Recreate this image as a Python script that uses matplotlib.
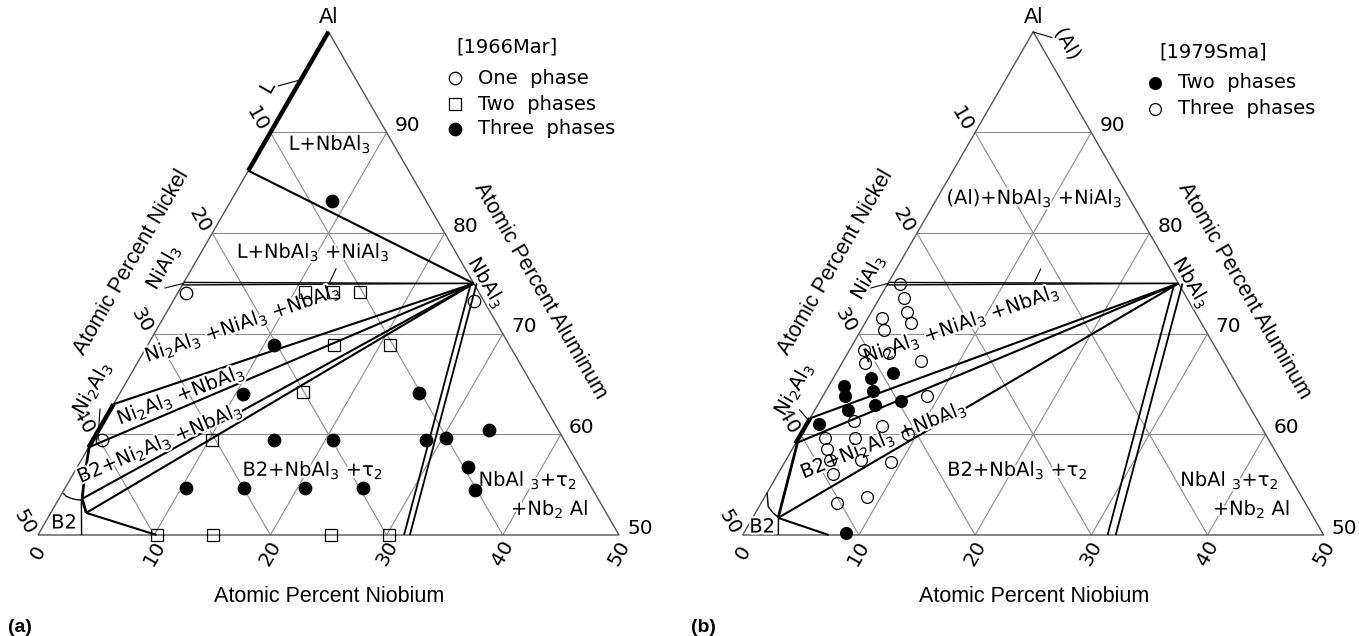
import numpy as np
import matplotlib.pyplot as plt
import matplotlib.patheffects as pe

plt.rcParams['font.family'] = ['DejaVu Sans']
plt.rcParams['mathtext.default'] = 'regular'

W, H = 1359, 636
S = 11.62            # pixels per at.% along a triangle edge
R3 = np.sqrt(3) / 2

# compositions are (at.% Nb, at.% Al), nickel is the balance
# --- (a) 1966Mar ---
a_one_nb = [0.7, 0.8, 25.9]
a_one_al = [74.0, 59.4, 73.3]
a_two_nb = [10.9, 13.3, 15.7, 16.0, 20.8, 15.7, 10.3, 10.2, 15.1, 25.2, 30.2]
a_two_al = [74.1, 74.1, 74.1, 68.9, 68.9, 64.2, 59.4, 50.0, 50.0, 50.0, 50.0]
a_three_nb = [8.7, 10.9, 10.6, 25.7, 15.6, 20.7, 28.7, 30.3, 33.6, 33.6, 35.4,
              10.4, 15.4, 20.6, 25.6]
a_three_al = [83.2, 68.9, 64.0, 64.1, 59.4, 59.4, 59.4, 59.6, 60.4, 56.8, 54.5,
              54.7, 54.7, 54.7, 54.7]

# --- (b) 1979Sma ---
b_two_nb = [4.9, 1.3, 1.9, 2.9, 3.2, 4.1, 4.9, 7.0, 1.1, 8.8]
b_two_al = [66.1, 64.8, 63.8, 62.4, 65.6, 64.3, 62.9, 63.3, 61.0, 50.2]
b_three_nb = [1.1, 2.1, 3.0, 3.9, 1.2, 2.0, 1.2, 2.0, 3.5, 6.7, 9.0, 3.9, 6.6,
              2.3, 3.0, 4.9, 6.4, 9.2, 9.1, 4.7, 6.5, 8.8, 3.8]
b_three_al = [74.9, 73.6, 72.2, 71.1, 71.6, 70.4, 68.4, 67.1, 68.1, 67.3, 63.8,
              61.3, 60.8, 59.6, 58.5, 59.6, 57.5, 60.0, 57.3, 56.1, 53.2, 53.8, 57.5]

# phase boundaries
nbal3 = (25.0, 75.0)
niAl3_al = [75.1, 74.85]
a_liq_al = [100.0, 86.2]
a_ni2al3_al = [63.0, 58.7]
a_b2_nb = [0.05, 1.1, 2.0, 3.05]
a_b2_al = [58.7, 55.8, 53.6, 52.2]
a_arc_nb = [0.1, 0.5, 1.0, 1.5, 2.0, 3.75]
a_arc_al = [54.15, 53.85, 53.65, 53.52, 53.47, 50.0]
a_b2_tie = 10.2
a_tau_nb = [31.5, 32.0]

b_ni2al3_al = [61.6, 59.1]
b_b2_nb = [0.15, 2.2]
b_b2_al = [59.1, 51.7]
b_arc_nb = [0.0, 0.8, 1.56, 2.2, 3.07]
b_arc_al = [54.2, 52.8, 52.16, 51.75, 50.0]
b_b2_tie = 7.4
b_tau_nb = [31.4, 32.1]

fig = plt.figure(figsize=(W / 100, H / 100), dpi=100)


def tern(nb, al):
    nb = np.asarray(nb, float)
    al = np.asarray(al, float)
    return nb + al / 2, al * R3


def rel(dx, dy):
    # offset in pixels from the Ni-50 / Al-50 corner
    return 25 + dx / S, 50 * R3 - dy / S


def make_panel(x0, width, blx, bly):
    ax = fig.add_axes([x0 / W, 0, width / W, 1])
    left = 25 - (blx - x0) / S
    bottom = 50 * R3 - (H - bly) / S
    ax.set_xlim(left, left + width / S)
    ax.set_ylim(bottom, bottom + H / S)
    ax.axis('off')
    return ax


def line(ax, nb, al, lw=1.5, color='black', z=3):
    x, y = tern(nb, al)
    ax.plot(x, y, color=color, lw=lw, zorder=z, solid_capstyle='butt')


def leader(ax, p, q):
    ax.plot(*zip(rel(*p), rel(*q)), color='black', lw=0.8, zorder=3)


halo = [pe.withStroke(linewidth=3, foreground='white')]


def label(ax, x, y, s, rot=0, size=14, **kw):
    ax.text(x, y, s, rotation=rot, fontsize=size, ha='center', va='center',
            rotation_mode='anchor', zorder=4, path_effects=halo, **kw)


def frame(ax):
    g = dict(lw=0.8, color='#8c8c8c', z=1)
    for v in [60, 70, 80, 90]:
        line(ax, [0, 100 - v], [v, v], **g)
    for c in [10, 20, 30, 40]:
        line(ax, [c, c], [50, 100 - c], **g)
        line(ax, [50 - c, 0], [50, 100 - c], **g)
    line(ax, [0, 50, 0, 0], [50, 50, 100, 50], lw=1.0, color='#555555', z=2)

    for v in [50, 60, 70, 80, 90]:
        x, y = tern(100 - v, v)
        ax.text(x + 21 / S, y + 7 / S, str(v), fontsize=14.5, ha='center', va='center')
    for c in [10, 20, 30, 40, 50]:
        x, y = tern(0, 100 - c)
        ax.text(x - 13 / S, y + 13 / S, str(c), fontsize=14.5, rotation=-60,
                ha='center', va='center')
    for c in [0, 10, 20, 30, 40, 50]:
        x, y = tern(c, 50)
        ax.text(x, y - 18 / S, str(c), fontsize=14.5, rotation=60,
                ha='center', va='center')

    t = dict(fontsize=15.5, family='Liberation Sans', ha='center', va='center')
    ax.text(*rel(291, -517), 'Al', **t)
    ax.text(*rel(93.5, -272.5), 'Atomic Percent Nickel', rotation=60, **t)
    ax.text(*rel(502, -244), 'Atomic Percent Aluminum', rotation=-60, **t)
    ax.text(*rel(291, 62), 'Atomic Percent Niobium', **t)

    label(ax, *rel(449, -252), 'NbAl$_3$', rot=-60)
    leader(ax, (291, -251.5), (298, -266))


def points(ax, nb, al, marker, filled, ms=9):
    x, y = tern(nb, al)
    ax.plot(x, y, ls='none', marker=marker, ms=ms, mew=0.9,
            mfc='black' if filled else 'none', mec='black', zorder=5)


def tie_lines(ax, ni2al3_al):
    for al in niAl3_al:
        line(ax, [0, nbal3[0]], [al, nbal3[1]], lw=1.0)
    for al in ni2al3_al:
        line(ax, [0, nbal3[0]], [al, nbal3[1]])
    line(ax, [0, 0], ni2al3_al, lw=3.2)


def tau_lines(ax, ends):
    mid = np.mean(ends)
    for nb in ends:
        line(ax, [nbal3[0] + (nb - mid), nb], [nbal3[1], 50], lw=1.3)


# ---------------- (a) ----------------
ax = make_panel(0, 680, 38, 535)
frame(ax)
line(ax, [0, 0], a_liq_al, lw=3.2)
line(ax, [0, nbal3[0]], [a_liq_al[1], nbal3[1]])
tie_lines(ax, a_ni2al3_al)
line(ax, a_b2_nb, a_b2_al, lw=2.0)
line(ax, a_arc_nb, a_arc_al, lw=1.0)
for i in [2, 3]:
    line(ax, [a_b2_nb[i], nbal3[0]], [a_b2_al[i], nbal3[1]])
line(ax, [a_b2_nb[3], a_b2_tie], [a_b2_al[3], 50])
tau_lines(ax, a_tau_nb)

points(ax, a_one_nb, a_one_al, 'o', False)
points(ax, a_two_nb, a_two_al, 's', False)
points(ax, a_three_nb, a_three_al, 'o', True)

label(ax, *rel(230, -447), 'L', rot=60)
leader(ax, (240, -449), (262, -455))
label(ax, *rel(292, -391), 'L+NbAl$_3$')
label(ax, *rel(275.5, -283), 'L+NbAl$_3$ +NiAl$_3$')
label(ax, *rel(125, -268), 'NiAl$_3$', rot=60)
leader(ax, (127, -247), (145.3, -251.6))
label(ax, *rel(205, -212), 'Ni$_2$Al$_3$ +NiAl$_3$ +NbAl$_3$', rot=19)
label(ax, *rel(143, -140), 'Ni$_2$Al$_3$ +NbAl$_3$', rot=21)
label(ax, *rel(122, -92), 'B2+Ni$_2$Al$_3$ +NbAl$_3$', rot=23)
label(ax, *rel(275, -65), 'B2+NbAl$_3$ +τ$_2$')
label(ax, *rel(490, -55), 'NbAl $_3$+τ$_2$')
label(ax, *rel(512, -26), '+Nb$_2$ Al')
label(ax, *rel(54, -147), 'Ni$_2$Al$_3$', rot=60)
leader(ax, (62, -126), (60, -95))
label(ax, *rel(26, -12), 'B2')

# legend
ax.text(*rel(469, -488), '[1966Mar]', fontsize=14, ha='center', va='center')
for dy, mk, fill, txt in [(-457, 'o', False, 'One  phase'),
                          (-431, 's', False, 'Two  phases'),
                          (-406, 'o', True, 'Three  phases')]:
    mx, my = rel(417, dy)
    ax.plot([mx], [my], marker=mk, ms=9, mew=0.9, mec='black',
            mfc='black' if fill else 'none')
    ax.text(*rel(440, dy), txt, fontsize=14, ha='left', va='center')
ax.text(*rel(-30, 92), '(a)', fontsize=14, fontweight='bold',
        family='Liberation Sans', ha='left', va='center')

# ---------------- (b) ----------------
ax = make_panel(680, 679, 742.7, 535)
frame(ax)
tie_lines(ax, b_ni2al3_al)
line(ax, b_b2_nb, b_b2_al, lw=2.0)
line(ax, b_arc_nb[:4], b_arc_al[:4], lw=1.0)
line(ax, b_arc_nb[3:], b_arc_al[3:], lw=1.0)
line(ax, [b_b2_nb[1], nbal3[0]], [b_b2_al[1], nbal3[1]])
line(ax, [b_b2_nb[1], b_b2_tie], [b_b2_al[1], 50])
tau_lines(ax, b_tau_nb)

points(ax, b_two_nb, b_two_al, 'o', True, ms=8.5)
points(ax, b_three_nb, b_three_al, 'o', False, ms=8.5)

label(ax, *rel(325, -491), '(Al)', rot=-60)
leader(ax, (290.5, -503), (311, -497))
label(ax, *rel(292, -337), '(Al)+NbAl$_3$ +NiAl$_3$')
label(ax, *rel(125, -258), 'NiAl$_3$', rot=60)
leader(ax, (128, -247), (145.3, -251.6))
label(ax, *rel(219, -211), 'Ni$_2$Al$_3$ +NiAl$_3$ +NbAl$_3$', rot=19)
label(ax, *rel(141, -95), 'B2+Ni$_2$Al$_3$ +NbAl$_3$', rot=22)
label(ax, *rel(275, -65), 'B2+NbAl$_3$ +τ$_2$')
label(ax, *rel(487, -55), 'NbAl $_3$+τ$_2$')
label(ax, *rel(509, -26), '+Nb$_2$ Al')
label(ax, *rel(51, -146), 'Ni$_2$Al$_3$', rot=60)
leader(ax, (57, -125), (65.6, -115))
label(ax, *rel(19.5, -8), 'B2')

ax.text(*rel(470, -483), '[1979Sma]', fontsize=14, ha='center', va='center')
for dy, fill, txt in [(-452, True, 'Two  phases'), (-426, False, 'Three  phases')]:
    mx, my = rel(412, dy)
    ax.plot([mx], [my], marker='o', ms=8.5, mew=0.9, mec='black',
            mfc='black' if fill else 'none')
    ax.text(*rel(435, dy), txt, fontsize=14, ha='left', va='center')
ax.text(*rel(-52, 92), '(b)', fontsize=14, fontweight='bold',
        family='Liberation Sans', ha='left', va='center')

fig.savefig('out.png', dpi=100)
